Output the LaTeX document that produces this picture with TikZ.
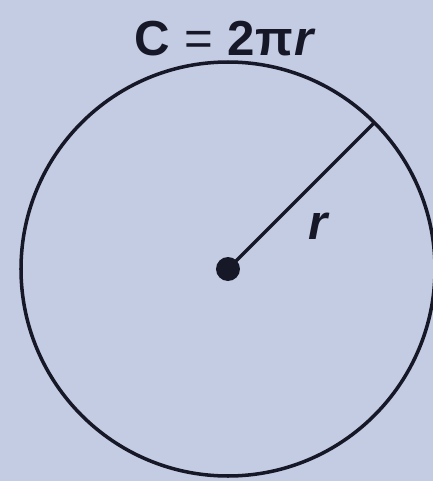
\documentclass[tikz,border=0pt]{standalone}
\usepackage{fontspec}
\setmainfont{Liberation Sans}
\usetikzlibrary{positioning,calc}
\definecolor{bgblue}{RGB}{196,204,227}
\definecolor{inkblue}{RGB}{22,24,40}

\begin{document}
\begin{tikzpicture}[every node/.style={font=\bfseries\fontsize{14}{16}\selectfont, text=inkblue}, line width=1pt]
\fill[bgblue] (0,0) rectangle (4.33,4.81);
\useasboundingbox (0,0) rectangle (4.33,4.81);
\coordinate (o) at (2.28,2.12);
\draw[inkblue] (o) circle (2.07);
\coordinate (rim) at ($(o)+(45:2.07)$);
\draw[inkblue] (o) -- (rim);
\fill[inkblue] (o) circle (0.12);
\node (rlabel) at (3.18,2.55) {\itshape r};
\node (circum) at (2.24,4.42) {C\hspace{0.3em}{\mdseries=}\hspace{0.3em}2π\kern0.5pt\itshape r};
\end{tikzpicture}
\end{document}
